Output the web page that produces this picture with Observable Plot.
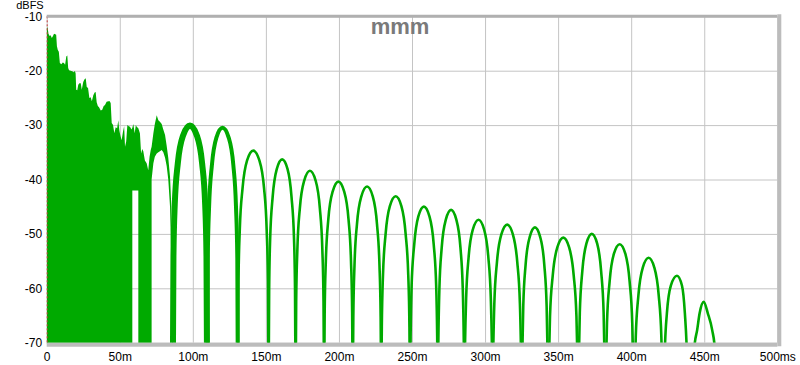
<!DOCTYPE html>
<html><head><meta charset="utf-8">
<script src="https://cdn.jsdelivr.net/npm/d3@7"></script>
<script src="https://cdn.jsdelivr.net/npm/@observablehq/plot@0.6"></script>
<style>
body{margin:0;background:#fff;}
#chart{width:800px;height:365px;}
#chart svg g[aria-label$="tick label"]{font-size:12px;}
</style></head><body><div id="chart"></div>
<script>
// ---- axis ticks ----
const xTicks = [0, 50, 100, 150, 200, 250, 300, 350, 400, 450, 500];
const xTickLabels = ["0", "50m", "100m", "150m", "200m", "250m", "300m", "350m", "400m", "450m", "500ms"];
const yTicks = [-10, -20, -30, -40, -50, -60, -70];
const yTickLabels = ["-10", "-20", "-30", "-40", "-50", "-60", "-70"];
const titleText = "mmm";
const yUnit = "dBFS";

// ---- early dense part (ms, top dB, floor dB) ----
const earlyT = [0.0,0.6,1.2,2.0,2.7,3.5,4.3,5.0,5.8,6.5,7.0,7.6,8.3,9.0,10.0,11.0,11.8,12.6,13.4,14.1,14.7,15.3,16.4,17.5,18.6,19.3,19.8,20.2,20.9,21.6,22.4,23.3,24.0,25.0,25.8,26.7,27.4,28.3,29.2,30.1,30.9,31.9,32.8,33.5,34.2,35.0,35.8,37.0,38.0,39.0,39.9,41.0,42.2,43.2,43.8,44.5,45.4,46.3,47.2,48.2,49.0,49.7,50.5,51.3,52.2,53.0,53.6,54.4,55.2,56.2,57.0,58.0,58.6,58.6,59.3,60.2,61.0,61.6,62.7,62.7,63.8,64.6,65.4,66.1,67.2,68.4,69.5,70.4,71.2,71.8,71.8,73.0,74.0,75.3,76.4,77.5,78.7,79.8,81.0,82.1,83.2,84.4,85.3,85.9,86.2];
const earlyTop = [-12.2,-12.0,-13.2,-13.6,-13.5,-14.0,-13.6,-13.2,-13.3,-13.4,-15.5,-16.2,-16.5,-18.6,-18.8,-18.5,-18.6,-18.9,-17.4,-17.2,-19.5,-19.9,-20.0,-20.1,-20.3,-20.0,-20.5,-23.5,-23.6,-22.6,-22.3,-22.3,-23.5,-22.1,-21.6,-21.4,-23.0,-23.2,-25.0,-24.9,-25.6,-24.5,-24.0,-23.9,-25.8,-26.5,-26.7,-27.3,-27.2,-26.5,-26.3,-25.7,-25.6,-25.6,-26.0,-29.6,-30.0,-31.5,-30.4,-30.6,-29.1,-31.0,-32.0,-32.8,-31.2,-30.2,-34.0,-33.0,-30.0,-30.2,-30.3,-30.8,-30.5,-30.5,-29.8,-31.5,-30.0,-30.3,-30.6,-30.6,-31.5,-35.2,-34.4,-34.8,-36.5,-37.0,-38.3,-35.8,-34.6,-34.0,-34.0,-31.5,-29.8,-28.2,-29.1,-29.4,-29.8,-30.8,-31.8,-33.8,-36.0,-39.5,-45.0,-60.0,-75.0];
const earlyFloor = [-75,-75,-75,-75,-75,-75,-75,-75,-75,-75,-75,-75,-75,-75,-75,-75,-75,-75,-75,-75,-75,-75,-75,-75,-75,-75,-75,-75,-75,-75,-75,-75,-75,-75,-75,-75,-75,-75,-75,-75,-75,-75,-75,-75,-75,-75,-75,-75,-75,-75,-75,-75,-75,-75,-75,-75,-75,-75,-75,-75,-75,-75,-75,-75,-75,-75,-75,-75,-75,-75,-75,-75,-75,-42,-42,-42,-42,-42,-42,-75,-75,-75,-75,-75,-75,-75,-75,-75,-75,-75,-40.0,-37.0,-35.8,-35.2,-35.0,-34.8,-34.6,-35.0,-36.0,-37.5,-40.0,-45.0,-55.0,-75.0,-75.0];

// ---- decaying lobes (ms / dB), lobes 2..20 ----
const lobeTimes = [
  [85.9,86.4,87.3,89.4,93.0,97.7,102.4,106.0,108.1,109.0,109.5],
  [109.5,109.9,110.8,112.7,115.8,120.0,124.2,127.4,129.2,130.1,130.5],
  [130.5,130.9,131.8,133.7,136.8,141.0,145.2,148.4,150.2,151.1,151.5],
  [151.5,151.9,152.6,154.3,157.1,160.8,164.5,167.2,168.9,169.6,170.0],
  [170.0,170.4,171.2,172.9,175.9,179.8,183.7,186.6,188.3,189.1,189.5],
  [189.5,189.9,190.7,192.4,195.4,199.3,203.2,206.2,207.9,208.7,209.1],
  [209.1,209.5,210.3,212.0,215.0,218.9,222.8,225.7,227.4,228.2,228.6],
  [228.6,229.0,229.8,231.6,234.5,238.5,242.4,245.3,247.1,247.9,248.3],
  [248.3,248.7,249.4,251.2,254.0,257.8,261.6,264.5,266.2,266.9,267.3],
  [267.3,267.7,268.4,270.0,272.8,276.4,280.0,282.8,284.4,285.1,285.5],
  [285.5,285.9,286.7,288.4,291.3,295.2,299.0,301.9,303.6,304.4,304.8],
  [304.8,305.2,306.0,307.8,310.8,314.8,318.7,321.7,323.5,324.3,324.7],
  [324.7,325.1,325.8,327.4,330.2,333.8,337.4,340.2,341.8,342.5,342.9],
  [342.9,343.3,344.1,346.0,349.1,353.2,357.2,360.3,362.2,363.0,363.4],
  [363.4,363.8,364.5,366.2,369.0,372.7,376.4,379.1,380.8,381.5,381.9],
  [381.9,382.3,383.1,384.9,387.8,391.8,395.7,398.6,400.4,401.2,401.6],
  [401.6,402.0,402.8,404.6,407.6,411.6,415.5,418.5,420.3,421.1,421.5],
  [422.0,422.6,424.1,426.8,431.0,434.4,436.4,437.8,438.5],
  [442.5,443.0,444.8,446.5,449.3,452.1,455.1,456.9,457.5]
];
const lobeLevels = [
  [-80,-54.0,-44.5,-36.9,-31.8,-30.0,-31.8,-36.9,-44.5,-54.0,-80],
  [-80,-54.4,-44.9,-37.3,-32.2,-30.4,-32.2,-37.3,-44.9,-54.4,-80],
  [-80,-58.6,-49.1,-41.5,-36.4,-34.6,-36.4,-41.5,-49.1,-58.6,-80],
  [-80,-60.2,-50.7,-43.1,-38.0,-36.2,-38.0,-43.1,-50.7,-60.2,-80],
  [-80,-62.3,-52.8,-45.2,-40.1,-38.3,-40.1,-45.2,-52.8,-62.3,-80],
  [-80,-64.3,-54.8,-47.2,-42.1,-40.3,-42.1,-47.2,-54.8,-64.3,-80],
  [-80,-65.2,-55.7,-48.1,-43.0,-41.2,-43.0,-48.1,-55.7,-65.2,-80],
  [-80,-67.0,-57.5,-49.9,-44.8,-43.0,-44.8,-49.9,-57.5,-67.0,-80],
  [-80,-68.9,-59.4,-51.8,-46.7,-44.9,-46.7,-51.8,-59.4,-68.9,-80],
  [-80,-69.5,-60.0,-52.4,-47.3,-45.5,-47.3,-52.4,-60.0,-69.5,-80],
  [-80,-71.3,-61.8,-54.2,-49.1,-47.3,-49.1,-54.2,-61.8,-71.3,-80],
  [-80,-72.2,-62.7,-55.1,-50.0,-48.2,-50.0,-55.1,-62.7,-72.2,-80],
  [-80,-72.7,-63.2,-55.6,-50.5,-48.7,-50.5,-55.6,-63.2,-72.7,-80],
  [-80,-74.6,-65.1,-57.5,-52.4,-50.6,-52.4,-57.5,-65.1,-74.6,-80],
  [-80,-73.9,-64.4,-56.8,-51.7,-49.9,-51.7,-56.8,-64.4,-73.9,-80],
  [-80,-75.8,-66.3,-58.7,-53.6,-51.8,-53.6,-58.7,-66.3,-75.8,-80],
  [-80,-78.3,-68.8,-61.2,-56.1,-54.3,-56.1,-61.2,-68.8,-78.3,-80],
  [-80,-72.1,-64.5,-59.4,-57.6,-59.4,-64.5,-72.1,-80],
  [-76,-70.5,-67.6,-64.5,-62.4,-64.5,-67.6,-71.0,-76]
];

// ---- build tables ----
const early = earlyT.map((t, i) => ({t, top: earlyTop[i], floor: earlyFloor[i]}));
const lobes = lobeTimes.flatMap((ts, k) => ts.map((t, i) => ({lobe: k + 2, t, db: lobeLevels[k][i]})));

const GREEN = "#00aa00";
const fmtX = d => xTickLabels[xTicks.indexOf(d)];
const fmtY = d => yTickLabels[yTicks.indexOf(d)];

const chart = Plot.plot({
  width: 800,
  height: 365,
  marginLeft: 46.7,
  marginRight: 22.7,
  marginTop: 16.3,
  marginBottom: 22.3,
  style: {fontFamily: "'Liberation Sans', Arial, sans-serif", fontSize: "12px", color: "#000", background: "#fff", overflow: "visible"},
  x: {domain: [0, 500], axis: null, label: null},
  y: {domain: [-70, -10], axis: null, label: null},
  marks: [
    Plot.ruleX(xTicks, {stroke: "#c4c4c4", strokeWidth: 1}),
    Plot.ruleY(yTicks, {stroke: "#c4c4c4", strokeWidth: 1}),
    Plot.areaY(early, {x: "t", y1: "floor", y2: "top", fill: GREEN, clip: true}),
    Plot.line(lobes.filter(d => d.lobe === 2), {x: "t", y: "db", stroke: GREEN, strokeWidth: 6, curve: "monotone-x", clip: true}),
    Plot.line(lobes.filter(d => d.lobe === 3), {x: "t", y: "db", stroke: GREEN, strokeWidth: 4, curve: "monotone-x", clip: true}),
    Plot.line(lobes.filter(d => d.lobe > 3), {x: "t", y: "db", z: "lobe", stroke: GREEN, strokeWidth: 2.6, curve: "monotone-x", clip: true}),
    Plot.ruleX([0], {stroke: "#c83c3c", strokeWidth: 1, strokeDasharray: "2,2"}),
    Plot.ruleY([-10], {stroke: "#b0b0b0", strokeWidth: 3, dy: -0.5}),
    Plot.ruleX([500], {stroke: "#bcbcbc", strokeWidth: 4, dx: 1.5, insetBottom: -3.5, insetTop: -2}),
    Plot.ruleY([-70], {stroke: "#bcbcbc", strokeWidth: 4, dy: 1.5}),
    Plot.axisX(xTicks, {tickFormat: fmtX, tickSize: 0, tickPadding: 9, fontSize: 12, label: null}),
    Plot.axisY(yTicks, {tickFormat: fmtY, tickSize: 0, tickPadding: 5, fontSize: 12, label: null}),
    Plot.text([titleText], {frameAnchor: "top", lineAnchor: "top", dx: -12.5, dy: 1.5, fontSize: 22, fontWeight: "bold", fill: "#7a7a7a"}),
    Plot.text([yUnit], {frameAnchor: "top-left", textAnchor: "start", lineAnchor: "top", dx: -31, dy: -15.5, fontSize: 11, fill: "#000"})
  ]
});
document.getElementById("chart").appendChild(chart);
</script>
</body></html>
